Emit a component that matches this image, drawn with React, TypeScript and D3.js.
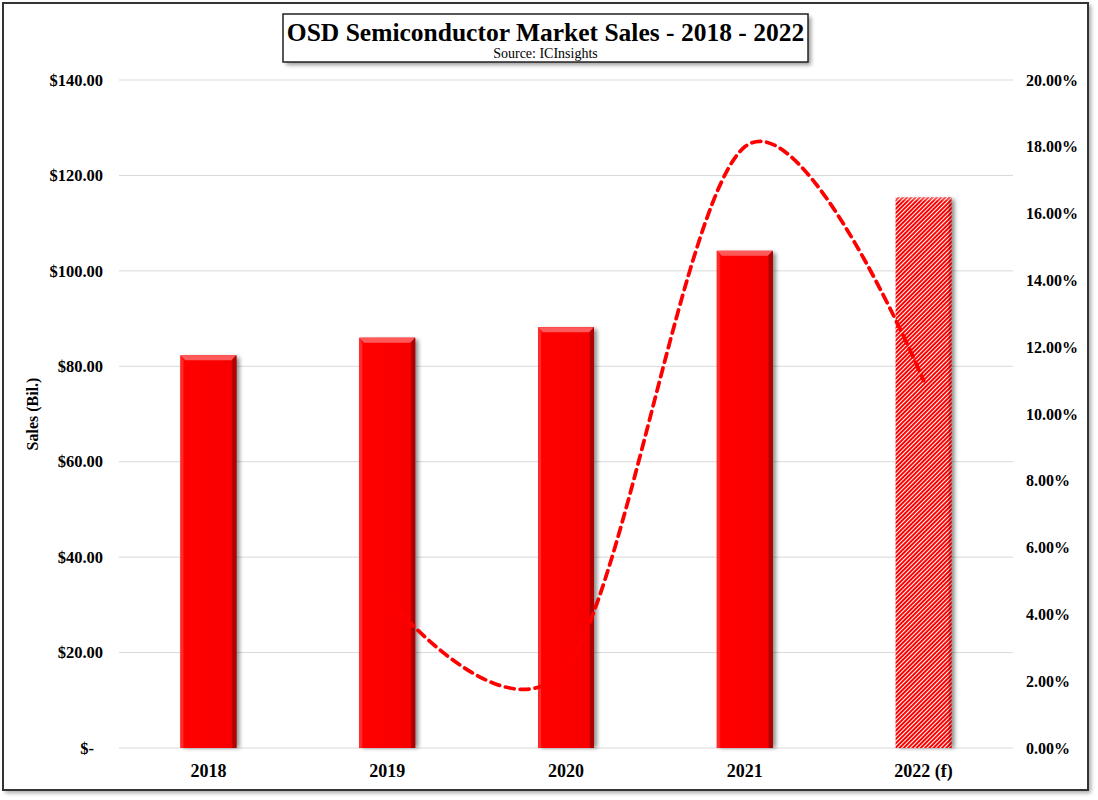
import React from "react";
import * as d3 from "d3";

const categories = ["2018", "2019", "2020", "2021", "2022 (f)"];
const sales = [82.3, 86.0, 88.2, 104.2, 115.4];
const forecast = [false, false, false, false, true];
const growthYears = ["2019", "2020", "2021", "2022 (f)"];
const growth = [4.5, 2.4, 18.0, 11.0];
const leftTicks = [0, 20, 40, 60, 80, 100, 120, 140];
const rightTicks = [0, 2, 4, 6, 8, 10, 12, 14, 16, 18, 20];

const W = 1098;
const H = 800;
const FONT = "'Times New Roman', 'Liberation Serif', serif";

export default function App() {
  const plotL = 119;
  const plotR = 1013;
  const plotT = 80;
  const plotB = 748;

  const x = d3.scaleBand<string>().domain(categories).range([plotL, plotR]).paddingInner(0).paddingOuter(0);
  const yL = d3.scaleLinear().domain([0, 140]).range([plotB, plotT]);
  const yR = d3.scaleLinear().domain([0, 20]).range([plotB, plotT]);
  const barW = 56;

  const lineGen = d3
    .line<number>()
    .x((_, i) => (x(growthYears[i]) as number) + x.bandwidth() / 2)
    .y((d) => yR(d))
    .curve(d3.curveCatmullRom.alpha(0));

  const fmtL = (v: number) => (v === 0 ? "$-" : "$" + d3.format(".2f")(v));
  const fmtR = (v: number) => d3.format(".2f")(v) + "%";

  return (
    <svg width={W} height={H} style={{ position: "absolute", left: 0, top: 0 }} fontFamily={FONT}>
      <defs>
        <filter id="shadow" x="-20%" y="-20%" width="140%" height="140%">
          <feGaussianBlur stdDeviation="2" />
        </filter>
        <linearGradient id="barGrad" x1="0" x2="1" y1="0" y2="0">
          <stop offset="0" stopColor="#ff1a1a" />
          <stop offset="0.08" stopColor="#ff0000" />
          <stop offset="0.9" stopColor="#f80000" />
          <stop offset="1" stopColor="#a00000" />
        </linearGradient>
        <pattern id="hatch" width="3" height="3" patternUnits="userSpaceOnUse" patternTransform="rotate(45)">
          <rect width="3" height="3" fill="#ffffff" />
          <rect width="2" height="3" fill="#ff0000" />
        </pattern>
      </defs>

      {/* outer frame */}
      <rect x={5} y={5} width={1086} height={788} fill="#000" opacity={0.35} filter="url(#shadow)" />
      <rect x={3} y={3} width={1085} height={787} fill="#fff" stroke="#333" strokeWidth={2} />

      {/* gridlines */}
      {leftTicks.map((t) => (
        <line key={"g" + t} x1={plotL} x2={plotR} y1={yL(t)} y2={yL(t)} stroke="#d9d9d9" strokeWidth={1} />
      ))}

      {/* bars */}
      {categories.map((c, i) => {
        const bx = (x(c) as number) + x.bandwidth() / 2 - barW / 2;
        const by = yL(sales[i]);
        const bh = plotB - by;
        return (
          <g key={c}>
            <rect x={bx + 3} y={by + 2} width={barW} height={bh - 2} fill="#000" opacity={0.45} filter="url(#shadow)" />
            {forecast[i] ? (
              <g>
                <rect x={bx} y={by} width={barW} height={bh} fill="url(#hatch)" />
                <rect x={bx + barW - 3} y={by} width={3} height={bh} fill="#700" opacity={0.35} />
                <rect x={bx} y={by} width={barW} height={3} fill="#fff" opacity={0.25} />
              </g>
            ) : (
              <g>
                <rect x={bx} y={by} width={barW} height={bh} fill="url(#barGrad)" />
                <polygon
                  points={`${bx},${by} ${bx + barW},${by} ${bx + barW - 5},${by + 5} ${bx + 5},${by + 5}`}
                  fill="#ff5a5a"
                />
                <polygon
                  points={`${bx + barW},${by} ${bx + barW},${plotB} ${bx + barW - 4},${plotB} ${bx + barW - 4},${by + 5}`}
                  fill="#b00000"
                />
                <polygon
                  points={`${bx},${by} ${bx + 3},${by + 5} ${bx + 3},${plotB} ${bx},${plotB}`}
                  fill="#ff2a2a"
                />
              </g>
            )}
          </g>
        );
      })}

      {/* growth line */}
      <path
        d={lineGen(growth) as string}
        fill="none"
        stroke="#ff0000"
        strokeWidth={3.75}
        strokeDasharray="9 6"
        strokeLinecap="round"
      />

      {/* left axis labels */}
      {leftTicks.map((t) => (
        <text
          key={"l" + t}
          x={t === 0 ? 94 : 103}
          y={yL(t)}
          dy="0.35em"
          textAnchor="end"
          fontSize={16.5}
          fontWeight="bold"
          fill="#000"
        >
          {fmtL(t)}
        </text>
      ))}

      {/* right axis labels */}
      {rightTicks.map((t) => (
        <text key={"r" + t} x={1026} y={yR(t)} dy="0.35em" textAnchor="start" fontSize={16} fontWeight="bold" fill="#000">
          {fmtR(t)}
        </text>
      ))}

      {/* x axis labels */}
      {categories.map((c) => (
        <text
          key={"x" + c}
          x={(x(c) as number) + x.bandwidth() / 2}
          y={771}
          dy="0.35em"
          textAnchor="middle"
          fontSize={18}
          fontWeight="bold"
          fill="#000"
        >
          {c}
        </text>
      ))}

      {/* y axis title */}
      <text
        transform={`translate(38,${414}) rotate(-90)`}
        textAnchor="middle"
        fontSize={16}
        fontWeight="bold"
        fill="#000"
      >
        Sales (Bil.)
      </text>

      {/* title box */}
      <rect x={286} y={17} width={525} height={48} fill="#000" opacity={0.4} filter="url(#shadow)" />
      <rect x={283} y={14} width={525} height={48} fill="#fff" stroke="#222" strokeWidth={1.5} />
      <text x={545.5} y={41} textAnchor="middle" fontSize={25.5} fontWeight="bold" fill="#000">
        OSD Semiconductor Market Sales - 2018 - 2022
      </text>
      <text x={545.5} y={58} textAnchor="middle" fontSize={14} fill="#000">
        Source: ICInsights
      </text>
    </svg>
  );
}
